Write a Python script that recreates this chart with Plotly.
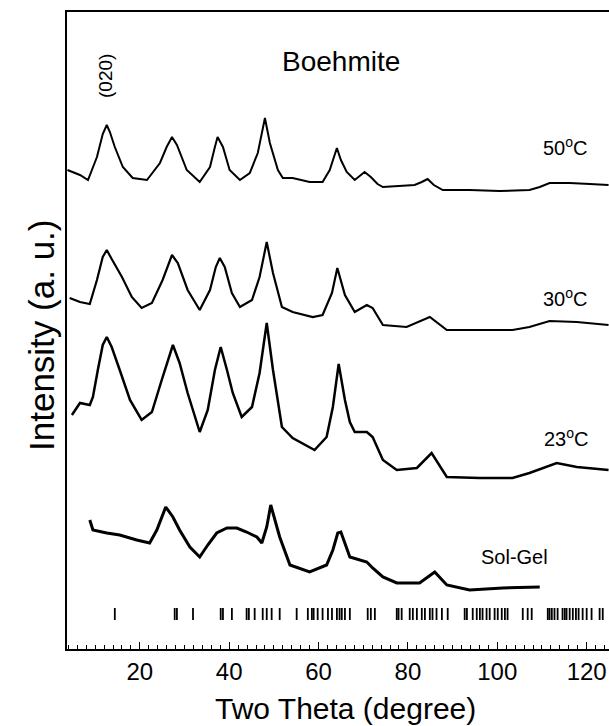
import plotly.graph_objects as go

# ---- data (two-theta in degrees, intensity in a.u.) ----
tt_50 = [3.8, 6.6, 8.4, 10.4, 11.7, 12.6, 13.3, 14.4, 16.2, 18.4, 21.6, 24.5, 26.0, 27.2, 28.3,
         30.5, 33.4, 35.7, 36.8, 37.4, 38.6, 40.1, 42.4, 44.6, 46.4, 48.0, 49.1, 50.9, 52.0,
         54.2, 58.0, 60.9, 62.5, 63.8, 64.1, 65.0, 66.3, 68.1, 69.2, 70.3, 71.7, 73.2, 74.4,
         78.2, 81.5, 83.1, 84.4, 85.8, 87.8, 93.8, 100.5, 107.2, 109.5, 111.7, 116.2, 120.7, 124.9]
i_50 = [479, 474, 469, 492, 515, 524, 517, 502, 482, 471, 469, 486, 502, 512, 504,
        479, 467, 482, 502, 512, 502, 479, 469, 476, 496, 531, 506, 479, 471,
        471, 467, 467, 479, 498, 501, 489, 477, 469, 473, 477, 472, 465, 462,
        463, 464, 467, 470, 464, 459, 459, 458, 459, 462, 466, 466, 465, 464]

tt_30 = [4.3, 6.6, 8.8, 10.4, 11.7, 12.6, 13.7, 16.0, 18.2, 20.4, 22.7, 25.1, 27.2, 28.5,
         30.7, 33.4, 35.7, 37.0, 37.9, 39.0, 40.6, 42.4, 45.1, 46.8, 48.4, 49.8, 51.8, 54.2,
         58.7, 60.9, 63.0, 64.2, 65.9, 68.1, 70.8, 72.1, 74.4, 79.7, 84.9, 88.7, 96.1, 103.4,
         107.2, 111.7, 117.8, 124.9]
i_30 = [351, 347, 345, 369, 392, 399, 390, 372, 352, 341, 346, 369, 394, 386,
        359, 339, 359, 382, 391, 382, 356, 342, 349, 372, 407, 376, 342, 337,
        332, 334, 356, 381, 354, 337, 344, 341, 324, 322, 332, 319, 319, 319,
        322, 328, 327, 324]

tt_23 = [4.8, 6.6, 8.8, 9.5, 10.6, 11.7, 12.6, 13.7, 15.5, 17.8, 20.4, 22.7, 24.9, 27.4,
         28.9, 30.7, 33.4, 35.2, 36.8, 38.1, 39.5, 40.8, 42.8, 45.1, 46.8, 48.4, 49.8, 51.8,
         54.2, 59.1, 61.8, 63.2, 64.5, 65.9, 67.0, 68.1, 70.8, 72.1, 74.4, 77.5, 82.0, 85.3,
         88.7, 96.1, 103.4, 107.2, 113.3, 117.8, 124.9]
i_23 = [234, 246, 244, 252, 279, 304, 312, 302, 279, 249, 229, 237, 269, 304,
        286, 256, 217, 239, 279, 302, 279, 256, 232, 242, 276, 326, 279, 222,
        211, 199, 212, 242, 285, 249, 227, 217, 217, 212, 189, 179, 181, 196,
        172, 171, 171, 176, 186, 182, 179]

tt_sg = [8.8, 9.5, 12.6, 15.5, 19.3, 22.2, 23.8, 25.8, 27.4, 28.9, 31.2, 33.4, 35.2, 37.2,
         39.5, 41.7, 43.9, 46.2, 47.3, 48.4, 49.3, 50.2, 51.3, 53.6, 58.0, 61.8, 63.2, 64.3,
         65.0, 67.0, 70.8, 72.1, 74.4, 77.5, 82.6, 86.0, 88.7, 93.8, 101.2, 109.5]
i_sg = [129, 119, 116, 114, 109, 106, 119, 142, 132, 119, 102, 92, 104, 116,
        121, 121, 117, 112, 106, 122, 144, 129, 112, 84, 77, 84, 99, 116,
        117, 92, 87, 81, 72, 66, 66, 77, 64, 59, 61, 62]

# reference (stick) pattern positions, degrees
stick_pos = [14.4, 27.8, 28.3, 31.9, 38.1, 38.6, 40.6, 43.9, 44.4, 45.7, 47.5, 48.4, 49.5,
             51.3, 55.1, 57.6, 58.5, 58.9, 59.8, 60.9, 62.1, 63.0, 64.1, 64.7, 65.2, 65.9,
             67.0, 71.0, 71.7, 72.6, 77.5, 77.9, 78.6, 80.4, 81.1, 82.0, 83.1, 83.8, 84.9,
             85.5, 86.4, 87.6, 88.9, 92.7, 93.2, 94.5, 95.4, 96.1, 96.7, 97.6, 98.3, 99.4,
             100.1, 101.0, 101.7, 102.3, 105.7, 106.8, 107.7, 111.3, 111.7, 112.2, 112.8,
             113.5, 114.6, 115.1, 115.5, 116.2, 116.9, 117.6, 118.2, 119.1, 120.0, 121.1,
             122.9, 123.6]
stick_lo, stick_hi = 29, 41

x_ticks = [20, 40, 60, 80, 100, 120]
labels = ["50<sup>o</sup>C", "30<sup>o</sup>C", "23<sup>o</sup>C", "Sol-Gel"]

FONT = "Liberation Sans, Arial, sans-serif"

fig = go.Figure()
for tt, ii, w in [(tt_50, i_50, 2.0), (tt_30, i_30, 2.2), (tt_23, i_23, 2.5), (tt_sg, i_sg, 3.0)]:
    fig.add_trace(go.Scatter(x=tt, y=ii, mode="lines",
                             line=dict(color="black", width=w), showlegend=False))

sx, sy = [], []
for p in stick_pos:
    sx += [p, p, None]
    sy += [stick_lo, stick_hi, None]
fig.add_trace(go.Scatter(x=sx, y=sy, mode="lines",
                         line=dict(color="black", width=1.8), showlegend=False))

fig.update_layout(
    width=609, height=726,
    margin=dict(l=67, r=0, t=12, b=77),
    paper_bgcolor="white", plot_bgcolor="white",
    font=dict(family=FONT, color="black"),
    xaxis=dict(range=[3.7, 125], showgrid=False, zeroline=False,
               showline=True, linecolor="black", linewidth=2, mirror=True,
               tickmode="array", tickvals=x_ticks, ticks="inside", ticklen=7,
               tickwidth=1.2, tickcolor="black",
               minor=dict(dtick=2, tick0=0, ticks="inside", ticklen=4, tickwidth=1,
                          tickcolor="black"),
               tickfont=dict(size=24, family=FONT, color="black")),
    yaxis=dict(range=[0, 637], showgrid=False, zeroline=False, showticklabels=False,
               showline=True, linecolor="black", linewidth=1.5, ticks=""),
)

ann = [
    dict(text="Boehmite", x=341, y=62, size=28, angle=0),
    dict(text="(020)", x=105, y=76, size=19, angle=-90),
    dict(text=labels[0], x=565, y=147, size=20, angle=0),
    dict(text=labels[1], x=565, y=297, size=20, angle=0),
    dict(text=labels[2], x=566, y=437, size=20, angle=0),
    dict(text=labels[3], x=514, y=557, size=20, angle=0),
    dict(text="Two Theta (degree)", x=345, y=708, size=30, angle=0),
    dict(text="Intensity (a. u.)", x=41, y=336, size=35, angle=-90),
]
for a in ann:
    fig.add_annotation(text=a["text"], xref="paper", yref="paper",
                       x=(a["x"] - 67) / 542, y=(649 - a["y"]) / 637,
                       xanchor="center", yanchor="middle", showarrow=False,
                       textangle=a["angle"],
                       font=dict(size=a["size"], family=FONT, color="black"))

fig.write_html("out.html", config={"displayModeBar": False},
               post_script="document.body.style.margin='0';document.body.style.padding='0';"
                           "document.body.style.overflow='hidden';")
